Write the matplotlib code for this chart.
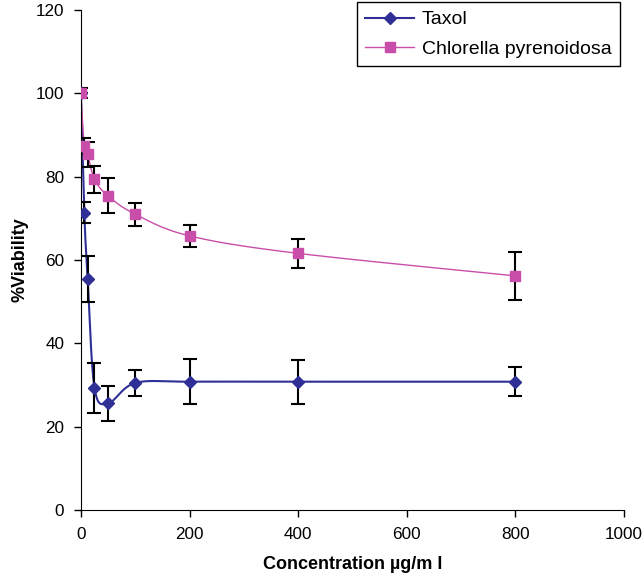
import numpy as np
import matplotlib
matplotlib.use("Agg")
import matplotlib.pyplot as plt

plt.rcParams["font.family"] = ["Liberation Sans", "DejaVu Sans"]

# concentration in ug/ml
conc = [0, 6.25, 12.5, 25, 50, 100, 200, 400, 800]
taxol = [100, 71.4, 55.4, 29.4, 25.6, 30.5, 30.8, 30.8, 30.8]
taxol_err = [0, 2.5, 5.5, 6.0, 4.2, 3.2, 5.4, 5.3, 3.5]
chlorella = [100, 87.4, 85.4, 79.4, 75.4, 71.0, 65.8, 61.6, 56.2]
chlorella_err = [1.2, 2.0, 3.0, 3.2, 4.2, 2.8, 2.6, 3.5, 5.7]

xticks = [0, 200, 400, 600, 800, 1000]
yticks = [0, 20, 40, 60, 80, 100, 120]

blue = "#2f2f96"
pink = "#c84eaa"


def smooth(ax, x, y, n=30):
    # excel-like smoothed line: catmull-rom bezier in display space
    tr = ax.transData
    pts = tr.transform(np.column_stack([x, y]))
    pts = np.vstack([pts[0], pts, pts[-1]])
    out = []
    for i in range(1, len(pts) - 2):
        p0, p3 = pts[i], pts[i + 1]
        p1 = p0 + (pts[i + 1] - pts[i - 1]) / 6
        p2 = p3 - (pts[i + 2] - pts[i]) / 6
        t = np.linspace(0, 1, n)[:, None]
        seg = ((1 - t) ** 3 * p0 + 3 * (1 - t) ** 2 * t * p1
               + 3 * (1 - t) * t ** 2 * p2 + t ** 3 * p3)
        out.append(seg)
    out = np.vstack(out)
    return tr.inverted().transform(out).T


fig = plt.figure(figsize=(6.42, 5.78), dpi=100)
ax = fig.add_axes([0.126, 0.1176, 0.846, 0.865])
ax.set_xlim(0, 1000)
ax.set_ylim(0, 120)

sx, sy = smooth(ax, conc, taxol)
ax.plot(sx, sy, color=blue, lw=1.5, zorder=2)
sx, sy = smooth(ax, conc, chlorella)
ax.plot(sx, sy, color=pink, lw=1.0, zorder=2)

ax.errorbar(conc, taxol, yerr=taxol_err, fmt="none", ecolor="black",
            elinewidth=1.5, capsize=5, capthick=1.5, zorder=3)
ax.errorbar(conc, chlorella, yerr=chlorella_err, fmt="none", ecolor="black",
            elinewidth=1.5, capsize=5, capthick=1.5, zorder=3)

ax.plot(conc, taxol, ls="none", marker="D", ms=6, color=blue, zorder=4)
ax.plot(conc, chlorella, ls="none", marker="s", ms=7, color=pink, zorder=4)

# legend proxies
ax.plot([], [], color=blue, lw=1.5, marker="D", ms=6, label="Taxol")
ax.plot([], [], color=pink, lw=1.0, marker="s", ms=7,
        label="Chlorella pyrenoidosa")

ax.set_xticks(xticks)
ax.set_yticks(yticks)
ax.tick_params(direction="out", length=5, width=1, labelsize=12.3, pad=7)
for s in ["top", "right"]:
    ax.spines[s].set_visible(False)

ax.set_xlabel("Concentration µg/m l", fontsize=13, fontweight="bold", labelpad=10)
ax.set_ylabel("%Viability", fontsize=13, fontweight="bold", labelpad=5)

leg = ax.legend(loc="upper right", bbox_to_anchor=(0.993, 1.016), fontsize=14,
                frameon=True, fancybox=False, edgecolor="black", framealpha=1,
                handlelength=2.5, borderaxespad=0, borderpad=0.45,
                labelspacing=0.6, handletextpad=0.4)
leg.get_frame().set_linewidth(1.0)

plt.savefig("out.png", dpi=100)
